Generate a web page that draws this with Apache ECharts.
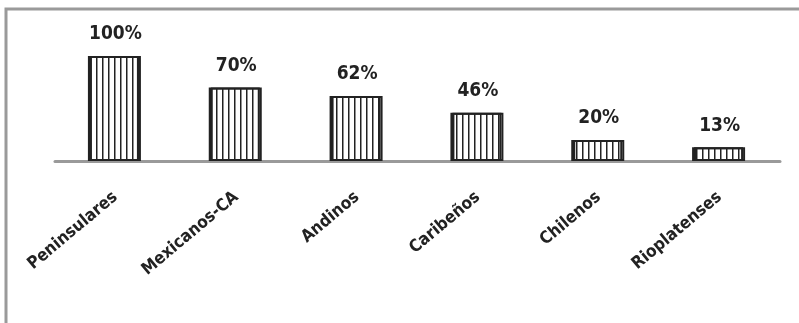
<!DOCTYPE html>
<html>
<head>
<meta charset="utf-8">
<script src="https://cdn.jsdelivr.net/npm/echarts@6/dist/echarts.min.js"></script>
<style>
  html, body { margin: 0; padding: 0; background: #fff; }
  #chart { width: 799px; height: 323px; }
</style>
</head>
<body>
<div id="chart"></div>
<script>
// datos
const categorias = ['Peninsulares', 'Mexicanos-CA', 'Andinos', 'Caribeños', 'Chilenos', 'Rioplatenses'];
const valores = [100, 70, 62, 46, 20, 13];

// trama de rayas verticales para las barras
function rayas() {
    const c = document.createElement('canvas');
    c.width = 6;
    c.height = 4;
    const ctx = c.getContext('2d');
    ctx.fillStyle = '#fff';
    ctx.fillRect(0, 0, 6, 4);
    ctx.fillStyle = '#222';
    ctx.fillRect(0, 0, 1.5, 4);
    return c;
}

const fuente = '"Liberation Sans Narrow", "DejaVu Sans Condensed", sans-serif';

const chart = echarts.init(document.getElementById('chart'));

const option = {
    animation: false,
    grid: {
        left: 55,
        right: 19,
        top: 56,
        bottom: 162
    },
    graphic: [{
        type: 'rect',
        shape: { x: 6, y: 9, width: 900, height: 400 },
        style: { fill: 'none', stroke: '#9a9a9a', lineWidth: 3 },
        silent: true
    }],
    xAxis: {
        type: 'category',
        data: categorias,
        axisLine: { lineStyle: { color: '#9a9a9a', width: 3 } },
        axisTick: { show: false },
        axisLabel: {
            rotate: 40,
            margin: 34,
            color: '#222',
            fontFamily: fuente,
            fontWeight: 'bold',
            fontSize: 17
        }
    },
    yAxis: {
        type: 'value',
        min: 0,
        max: 100,
        show: false,
        splitLine: { show: false }
    },
    series: [{
        type: 'bar',
        data: valores,
        barWidth: 51,
        itemStyle: {
            color: { image: rayas(), repeat: 'repeat' },
            borderColor: '#222',
            borderWidth: 2,
            shadowColor: '#222',
            shadowOffsetX: -2,
            shadowBlur: 0
        },
        label: {
            show: true,
            position: 'top',
            distance: 12,
            formatter: '{c}%',
            color: '#222',
            fontFamily: fuente,
            fontWeight: 'bold',
            fontSize: 19
        }
    }]
};

chart.setOption(option);
</script>
</body>
</html>
